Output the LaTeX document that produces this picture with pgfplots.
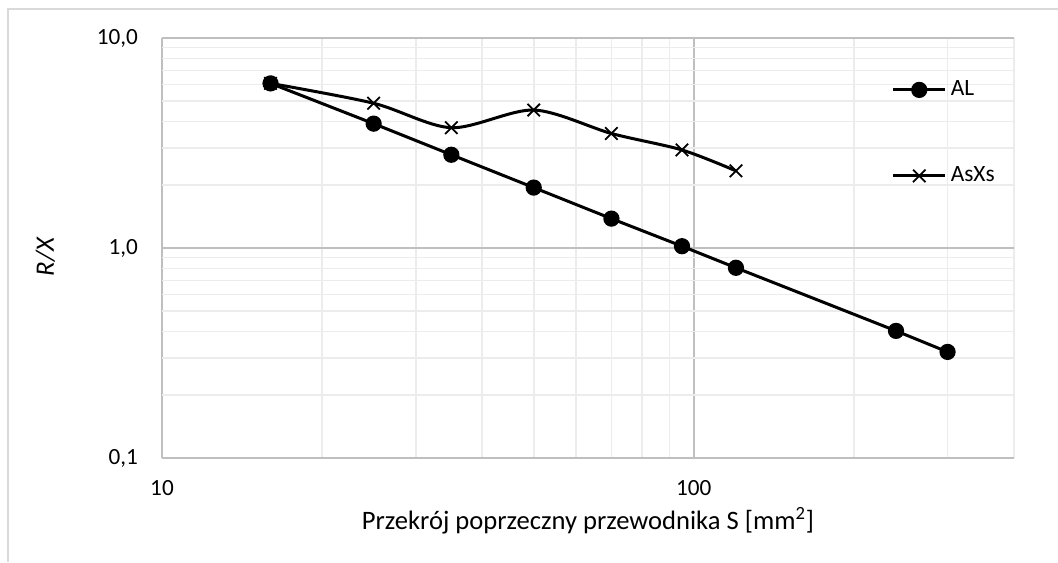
\documentclass[border=0pt]{standalone}
\usepackage{pgfplots}
\pgfplotsset{compat=1.18}
\usepackage{fontspec}
\setmainfont{Carlito}
\definecolor{majgrid}{RGB}{191,191,191}
\definecolor{mingrid}{RGB}{236,236,236}
\definecolor{border}{RGB}{217,217,217}
\begin{document}
\begin{tikzpicture}
\begin{axis}[
  at={(0,0)}, anchor=south west,
  scale only axis,
  width=426pt, height=210pt,
  xmode=log, ymode=log,
  xmin=10, xmax=400, ymin=0.1, ymax=10,
  xtick={10,100}, xticklabels={10,100},
  ytick={0.1,1,10}, yticklabels={{0,1},{1,0},{10,0}},
  minor xtick={20,30,40,50,60,70,80,90,200,300,400},
  minor ytick={0.2,0.3,0.4,0.5,0.6,0.7,0.8,0.9,2,3,4,5,6,7,8,9},
  grid=both,
  major grid style={majgrid, line width=0.8pt},
  minor grid style={mingrid, line width=0.8pt},
  axis line style={draw=none},
  tick style={draw=none},
  /pgf/number format/assume math mode=true,
  tick label style={font=\fontsize{11.6}{13}\selectfont},
  xticklabel style={yshift=-7.5pt},
  yticklabel style={xshift=-8.5pt},
  xlabel={Przekrój poprzeczny przewodnika S [mm\textsuperscript{2}]},
  ylabel={\itshape R/X},
  label style={font=\fontsize{13.3}{15}\selectfont},
  xlabel style={yshift=1pt},
  ylabel style={yshift=14pt, xshift=-4.5pt},
  legend style={at={(0.849,0.774)}, anchor=west, draw=none, fill=none,
    font=\fontsize{11.7}{13}\selectfont, row sep=30pt,
    /tikz/every even column/.append style={column sep=0pt}},
  legend cell align=left,
  legend image code/.code={\draw[mark repeat=2,mark phase=2,#1] plot coordinates {(0pt,0pt) (13pt,0pt) (26pt,0pt)};},
]
\addplot[black, line width=1.5pt, mark=*, mark size=3.3pt] coordinates {
 (16,6.08) (25,3.91) (35,2.78) (50,1.94) (70,1.38) (95,1.02) (120,0.805) (240,0.403) (300,0.320)
};
\addlegendentry{AL}
\addplot[black, line width=1.5pt, mark=x, mark size=4.4pt, smooth, tension=0.5, mark options={line width=0.9pt}] coordinates {
 (16,6.08) (25,4.89) (35,3.74) (50,4.54) (70,3.51) (95,2.93) (120,2.33)
};
\addlegendentry{AsXs}
\end{axis}
\draw[border, line width=0.8pt] (-77pt,-52pt) -- (-77pt,224.5pt) -- (448pt,224.5pt);
\pgfresetboundingbox
\path[use as bounding box] (-81pt,-52pt) rectangle (448pt,229pt);
\end{tikzpicture}
\end{document}
